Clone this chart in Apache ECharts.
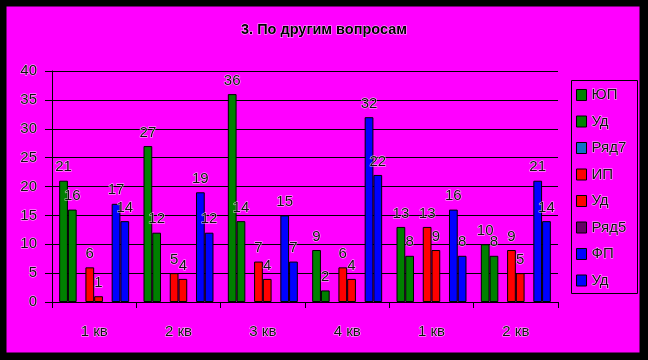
<!DOCTYPE html>
<html>
<head>
<meta charset="utf-8">
<script src="https://cdn.jsdelivr.net/npm/echarts@6/dist/echarts.min.js"></script>
<style>
html,body{margin:0;padding:0;background:#000;}
#c{width:648px;height:360px;}
</style>
</head>
<body>
<div id="c"></div>
<script>
var categories = ['1 кв', '2 кв', '3 кв', '4 кв', '1 кв', '2 кв'];
// zero-width spaces keep the three "Уд" legend entries distinct
var seriesNames = ['ЮП', 'Уд', 'Ряд7', 'ИП', 'Уд\u200b', 'Ряд5', 'ФП', 'Уд\u200b\u200b'];
var yuP   = [21, 27, 36, 9, 13, 10];
var yuUd  = [16, 12, 14, 2, 8, 8];
var row7  = [null, null, null, null, null, null];
var iP    = [6, 5, 7, 6, 13, 9];
var iUd   = [1, 4, 4, 4, 9, 5];
var row5  = [null, null, null, null, null, null];
var fP    = [17, 19, 15, 32, 16, 21];
var fUd   = [14, 12, 7, 22, 8, 14];
var yTicks = [0, 5, 10, 15, 20, 25, 30, 35, 40];

var colors = ['#008000', '#008000', '#1070c8', '#ff0000', '#ff0000', '#660066', '#0000ff', '#0000ff'];
var dataSets = [yuP, yuUd, row7, iP, iUd, row5, fP, fUd];

var txt = {
  color: '#111',
  fontFamily: 'Liberation Sans, Arial, sans-serif',
  textBorderColor: 'rgba(255,255,255,0.75)',
  textBorderWidth: 1
};

var series = dataSets.map(function (d, i) {
  return {
    name: seriesNames[i],
    type: 'bar',
    data: d,
    barGap: '0%',
    barCategoryGap: '17%',
    itemStyle: { color: colors[i], borderColor: '#000', borderWidth: 1 },
    label: Object.assign({
      show: true, position: 'top', distance: 6, fontSize: 15
    }, txt),
    emphasis: { disabled: true },
    animation: false
  };
});

var chart = echarts.init(document.getElementById('c'), null, { renderer: 'canvas' });
chart.setOption({
  backgroundColor: '#000',
  animation: false,
  graphic: [
    { type: 'rect', z: -10, shape: { x: 6, y: 6, width: 634, height: 347 },
      style: { fill: '#ff00ff', stroke: '#000', lineWidth: 1 } },
    { type: 'rect', z: 10, shape: { x: 571.5, y: 80.5, width: 66, height: 213 },
      style: { fill: 'none', stroke: '#000', lineWidth: 1 } }
  ],
  title: {
    text: '3. По другим вопросам',
    left: 'center',
    top: 17,
    textStyle: Object.assign({}, txt, { fontSize: 14.5, fontWeight: 'bold', color: '#000' })
  },
  legend: {
    orient: 'vertical',
    left: 571,
    top: 80,
    padding: [7, 8, 7, 5],
    itemWidth: 10,
    itemHeight: 11,
    itemGap: 10.5,
    icon: 'rect',
    itemStyle: { borderColor: '#000', borderWidth: 1 },
    textStyle: Object.assign({}, txt, { fontSize: 15, lineHeight: 14 }),
    data: seriesNames.map(function (n, i) { return { name: n, itemStyle: { color: colors[i] } }; }),
    selectedMode: false
  },
  grid: { left: 52, right: 90, top: 71, bottom: 58, containLabel: false },
  xAxis: {
    type: 'category',
    data: categories,
    axisLine: { lineStyle: { color: '#000', width: 1 } },
    axisTick: { show: true, length: 6, lineStyle: { color: '#000' } },
    axisLabel: Object.assign({ fontSize: 15, margin: 22 }, txt)
  },
  yAxis: {
    type: 'value',
    min: 0,
    max: 40,
    interval: 5,
    axisLine: { show: true, lineStyle: { color: '#000', width: 1 } },
    axisTick: { show: true, length: 7, lineStyle: { color: '#000' } },
    splitLine: { show: true, lineStyle: { color: '#000', width: 1 } },
    axisLabel: Object.assign({ fontSize: 15, margin: 15,
      formatter: function (v) { return yTicks.indexOf(v) >= 0 ? String(v) : ''; } }, txt)
  },
  series: series
});
</script>
</body>
</html>
